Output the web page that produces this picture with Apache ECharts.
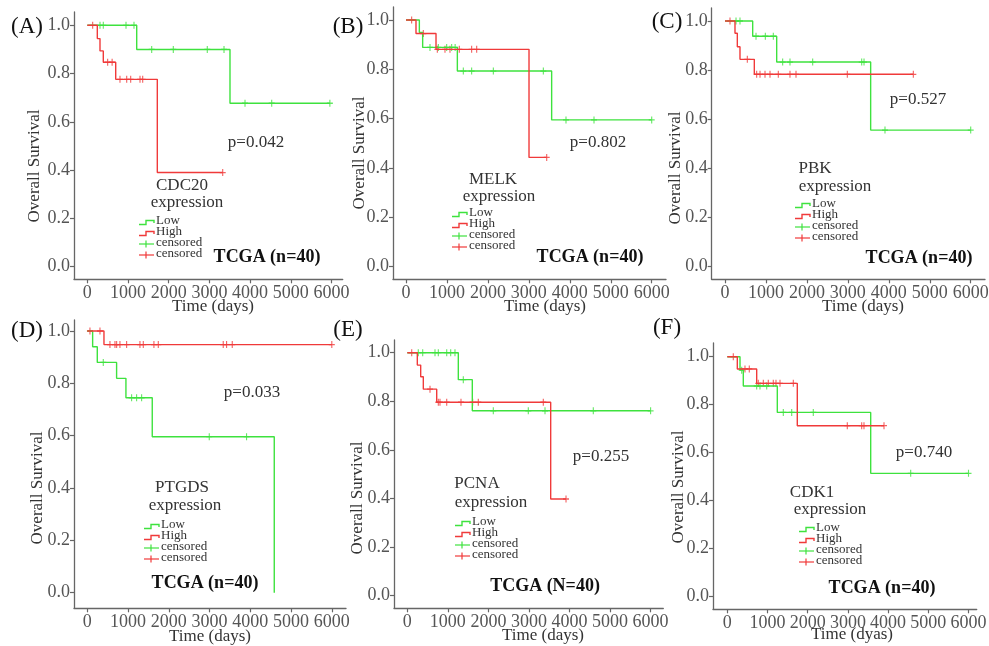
<!DOCTYPE html>
<html>
<head>
<meta charset="utf-8">
<title>Overall survival - TCGA</title>
<script src="https://cdn.jsdelivr.net/npm/echarts@6/dist/echarts.min.js"></script>
<style>
  html, body { margin: 0; padding: 0; background: #fff; }
  #chart { width: 989px; height: 646px; }
</style>
</head>
<body>
<div id="chart"></div>
<script>
const xTicks = [0, 1000, 2000, 3000, 4000, 5000, 6000];
const yTicks = [0, 0.2, 0.4, 0.6, 0.8, 1.0];

// (A) CDC20
const cdc20LowTimes = [1214, 3506];
const cdc20LowSurv = [0.900, 0.677];
const cdc20LowCensored = [312, 393, 951, 1147, 1582, 2113, 2948, 3359, 3875, 4531, 5960];
const cdc20HighTimes = [246, 312, 393, 698, 1720];
const cdc20HighSurv = [0.945, 0.894, 0.847, 0.776, 0.390];
const cdc20HighCensored = [132, 500, 610, 803, 968, 1066, 1295, 1361, 3327];

// (B) MELK
const melkLowTimes = [326, 407, 1254, 3557];
const melkLowSurv = [0.950, 0.889, 0.793, 0.595];
const melkLowCensored = [586, 790, 993, 1115, 1200, 1400, 1603, 2133, 3354, 3907, 4591, 6000];
const melkHighTimes = [244, 733, 3004];
const melkHighSurv = [0.945, 0.881, 0.443];
const melkHighCensored = [138, 423, 765, 952, 1074, 1302, 1603, 1726, 3436];

// (C) PBK
const pbkLowTimes = [676, 1262, 3557];
const pbkLowSurv = [0.938, 0.833, 0.556];
const pbkLowCensored = [269, 366, 757, 985, 1180, 1408, 1587, 2141, 3338, 3395, 3907, 6000];
const pbkHighTimes = [244, 301, 366, 716];
const pbkHighSurv = [0.950, 0.895, 0.844, 0.783];
const pbkHighCensored = [122, 545, 773, 855, 977, 1099, 1302, 1587, 1734, 2987, 4599];

// (D) PTGDS
const ptgdsLowTimes = [131, 245, 719, 948, 1594, 4588];
const ptgdsLowSurv = [0.940, 0.880, 0.819, 0.745, 0.596, 0];
const ptgdsLowCensored = [392, 1087, 1210, 1333, 2993, 3908];
const ptgdsHighTimes = [409];
const ptgdsHighSurv = [0.948];
const ptgdsHighCensored = [65, 311, 556, 679, 720, 801, 965, 1292, 1374, 1635, 1742, 3336, 3418, 3557, 6000];

// (E) PCNA
const pcnaLowTimes = [1258, 1603];
const pcnaLowSurv = [0.889, 0.761];
const pcnaLowCensored = [271, 380, 683, 765, 972, 1070, 1176, 1381, 2121, 2984, 3396, 4587, 6000];
const pcnaHighTimes = [247, 330, 395, 725, 3536];
const pcnaHighSurv = [0.949, 0.901, 0.850, 0.796, 0.398];
const pcnaHighCensored = [109, 560, 765, 806, 972, 1324, 1612, 1751, 3354, 3914];

// (F) CDK1
const cdk1LowTimes = [316, 398, 1244, 3567];
const cdk1LowSurv = [0.944, 0.878, 0.768, 0.514];
const cdk1LowCensored = [358, 731, 813, 980, 1393, 1602, 2139, 4562, 6000];
const cdk1HighTimes = [249, 731, 1741];
const cdk1HighSurv = [0.949, 0.889, 0.7125];
const cdk1HighCensored = [149, 440, 547, 771, 896, 1020, 1144, 1211, 1311, 1642, 2985, 3343, 3400, 3898];

const GREEN = '#3ee23e';
const RED = '#f03a3a';
const FONT = '"Liberation Serif", "Times New Roman", serif';

// layout of each panel (pixels): axis box, where x=0 / y=0 / y=1 fall, text spots
const panels = [
  { tag: '(A)', gene: 'CDC20', p: 'p=0.042', cohort: 'TCGA (n=40)', xTitle: 'Time (days)',
    low: [cdc20LowTimes, cdc20LowSurv, cdc20LowCensored], high: [cdc20HighTimes, cdc20HighSurv, cdc20HighCensored],
    box: { xL: 74, x0: 87.3, kx: 40.7, xR: 342.7, yT: 12, y1: 25.3, y0: 266.7, yB: 279.3 },
    tagPos: [27, 27], genePos: [182, 186, 187, 203], pPos: [256, 143], cohortPos: [267, 257],
    yTitlePos: [35, 166], xTitlePos: [213, 307], legendPos: [139, 221] },
  { tag: '(B)', gene: 'MELK', p: 'p=0.802', cohort: 'TCGA (n=40)', xTitle: 'Time (days)',
    low: [melkLowTimes, melkLowSurv, melkLowCensored], high: [melkHighTimes, melkHighSurv, melkHighCensored],
    box: { xL: 393, x0: 406, kx: 40.95, xR: 666, yT: 7, y1: 20, y0: 266.7, yB: 279.3 },
    tagPos: [348, 27], genePos: [493, 180, 499, 197], pPos: [598, 143], cohortPos: [590, 257],
    yTitlePos: [360, 153], xTitlePos: [545, 307], legendPos: [452, 213] },
  { tag: '(C)', gene: 'PBK', p: 'p=0.527', cohort: 'TCGA (n=40)', xTitle: 'Time (days)',
    low: [pbkLowTimes, pbkLowSurv, pbkLowCensored], high: [pbkHighTimes, pbkHighSurv, pbkHighCensored],
    box: { xL: 711.7, x0: 725, kx: 40.95, xR: 985, yT: 8, y1: 21, y0: 266.7, yB: 279.3 },
    tagPos: [667, 22], genePos: [815, 169, 835, 187], pPos: [918, 100], cohortPos: [919, 258],
    yTitlePos: [676, 168], xTitlePos: [863, 307], legendPos: [795, 204] },
  { tag: '(D)', gene: 'PTGDS', p: 'p=0.033', cohort: 'TCGA (n=40)', xTitle: 'Time (days)',
    low: [ptgdsLowTimes, ptgdsLowSurv, ptgdsLowCensored], high: [ptgdsHighTimes, ptgdsHighSurv, ptgdsHighCensored],
    box: { xL: 74, x0: 87.3, kx: 40.75, xR: 346, yT: 320, y1: 331, y0: 592.7, yB: 608.3 },
    tagPos: [27, 331], genePos: [182, 488, 185, 506], pPos: [252, 393], cohortPos: [205, 583],
    yTitlePos: [38, 488], xTitlePos: [210, 637], legendPos: [144, 525] },
  { tag: '(E)', gene: 'PCNA', p: 'p=0.255', cohort: 'TCGA (N=40)', xTitle: 'Time (days)',
    low: [pcnaLowTimes, pcnaLowSurv, pcnaLowCensored], high: [pcnaHighTimes, pcnaHighSurv, pcnaHighCensored],
    box: { xL: 394, x0: 407.3, kx: 40.55, xR: 663.3, yT: 340, y1: 352.7, y0: 595.7, yB: 608.3 },
    tagPos: [348, 330], genePos: [477, 484, 491, 503], pPos: [601, 457], cohortPos: [545, 586],
    yTitlePos: [358, 498], xTitlePos: [543, 636], legendPos: [455, 522] },
  { tag: '(F)', gene: 'CDK1', p: 'p=0.740', cohort: 'TCGA (n=40)', xTitle: 'Time (dyas)',
    low: [cdk1LowTimes, cdk1LowSurv, cdk1LowCensored], high: [cdk1HighTimes, cdk1HighSurv, cdk1HighCensored],
    box: { xL: 713, x0: 727.3, kx: 40.2, xR: 976.7, yT: 343, y1: 356.7, y0: 596.7, yB: 609.3 },
    tagPos: [667, 328], genePos: [812, 493, 830, 510], pPos: [924, 453], cohortPos: [882, 588],
    yTitlePos: [679, 487], xTitlePos: [852, 635], legendPos: [799, 528] }
];

// KM step line: start at (0,1), one point per event, then run on to the last follow-up
const kmLine = (times, surv, censored) => {
  const pts = [[0, 1]];
  times.forEach((t, i) => pts.push([t, surv[i]]));
  const end = Math.max(times[times.length - 1], censored[censored.length - 1]);
  pts.push([end, surv[surv.length - 1]]);
  return pts;
};

const survAt = (times, surv, t) => {
  let s = 1;
  times.forEach((tt, i) => { if (tt <= t) s = surv[i]; });
  return s;
};

const grids = [], xAxes = [], yAxes = [], series = [], graphics = [];

const axisCommon = {
  axisLine: { onZero: false, lineStyle: { color: '#666', width: 1.3 } },
  axisTick: { length: 4, lineStyle: { color: '#666', width: 1.2 } },
  splitLine: { show: false }
};

const txt = (x, y, text, size, extra) => Object.assign({
  type: 'text', x: x, y: y, silent: true,
  style: Object.assign({ text: text, font: size + 'px ' + FONT, fill: '#333', align: 'center', verticalAlign: 'middle' }, extra || {})
});

panels.forEach((pn, i) => {
  const b = pn.box;
  grids.push({ left: b.xL, top: b.yT, width: b.xR - b.xL, height: b.yB - b.yT, containLabel: false, outerBoundsMode: 'none' });
  xAxes.push(Object.assign({}, axisCommon, {
    type: 'value', gridIndex: i, position: 'bottom',
    min: (b.xL - b.x0) / b.kx * 1000, max: (b.xR - b.x0) / b.kx * 1000,
    axisTick: Object.assign({}, axisCommon.axisTick, { customValues: xTicks }),
    axisLabel: { customValues: xTicks, margin: 5, color: '#555', fontSize: 18, fontFamily: FONT,
      hideOverlap: false, formatter: v => String(Math.round(v)) }
  }));
  yAxes.push(Object.assign({}, axisCommon, {
    type: 'value', gridIndex: i, position: 'left',
    min: -(b.yB - b.y0) / (b.y0 - b.y1), max: 1 + (b.y1 - b.yT) / (b.y0 - b.y1),
    axisTick: Object.assign({}, axisCommon.axisTick, { customValues: yTicks }),
    axisLabel: { customValues: yTicks, margin: 4, color: '#555', fontSize: 18, fontFamily: FONT,
      hideOverlap: false, formatter: v => v.toFixed(1) }
  }));

  [[pn.low, GREEN], [pn.high, RED]].forEach(([grp, col]) => {
    const [times, surv, cens] = grp;
    series.push({
      type: 'line', xAxisIndex: i, yAxisIndex: i, step: 'end', symbol: 'none', silent: true,
      lineStyle: { color: col, width: 1.4 }, data: kmLine(times, surv, cens)
    });
    series.push({
      type: 'scatter', xAxisIndex: i, yAxisIndex: i, silent: true,
      symbol: 'path://M4,0 L4,8 M0,4 L8,4', symbolSize: [6, 7],
      itemStyle: { color: 'transparent', borderColor: col, borderWidth: 1.2 },
      data: cens.map(t => [t, survAt(times, surv, t)])
    });
  });

  // texts
  graphics.push(txt(pn.tagPos[0], pn.tagPos[1], pn.tag, 23, { fill: '#111' }));
  graphics.push(txt(pn.genePos[0], pn.genePos[1], pn.gene, 17));
  graphics.push(txt(pn.genePos[2], pn.genePos[3], 'expression', 17));
  graphics.push(txt(pn.pPos[0], pn.pPos[1], pn.p, 17));
  graphics.push(txt(pn.cohortPos[0], pn.cohortPos[1], pn.cohort, 18, { fill: '#111', font: 'bold 18px ' + FONT }));
  graphics.push(txt(pn.xTitlePos[0], pn.xTitlePos[1], pn.xTitle, 17));
  graphics.push(Object.assign(txt(pn.yTitlePos[0], pn.yTitlePos[1], 'Overall Survival', 17), { rotation: Math.PI / 2 }));

  // little legend: Low / High step icons, then the two censored marks
  const [lx, ly] = pn.legendPos;
  const rows = [['Low', GREEN, 'step'], ['High', RED, 'step'], ['censored', GREEN, 'cens'], ['censored', RED, 'cens']];
  rows.forEach(([label, col, kind], r) => {
    const cy = ly + r * 11;
    if (kind === 'step') {
      graphics.push({ type: 'polyline', silent: true,
        shape: { points: [[lx, cy + 3.5], [lx + 7, cy + 3.5], [lx + 7, cy - 0.5], [lx + 15, cy - 0.5], [lx + 15, cy + 2]] },
        style: { stroke: col, lineWidth: 1.4, fill: null } });
    } else {
      graphics.push({ type: 'line', silent: true, shape: { x1: lx, y1: cy + 1, x2: lx + 15, y2: cy + 1 },
        style: { stroke: col, lineWidth: 1.2 } });
      graphics.push({ type: 'line', silent: true, shape: { x1: lx + 7, y1: cy - 2.5, x2: lx + 7, y2: cy + 4.5 },
        style: { stroke: col, lineWidth: 1.2 } });
    }
    graphics.push(txt(lx + 17, cy, label, 13, { align: 'left' }));
  });
});

const chart = echarts.init(document.getElementById('chart'));
chart.setOption({
  animation: false,
  backgroundColor: '#fff',
  grid: grids,
  xAxis: xAxes,
  yAxis: yAxes,
  series: series,
  graphic: graphics
});
</script>
</body>
</html>
